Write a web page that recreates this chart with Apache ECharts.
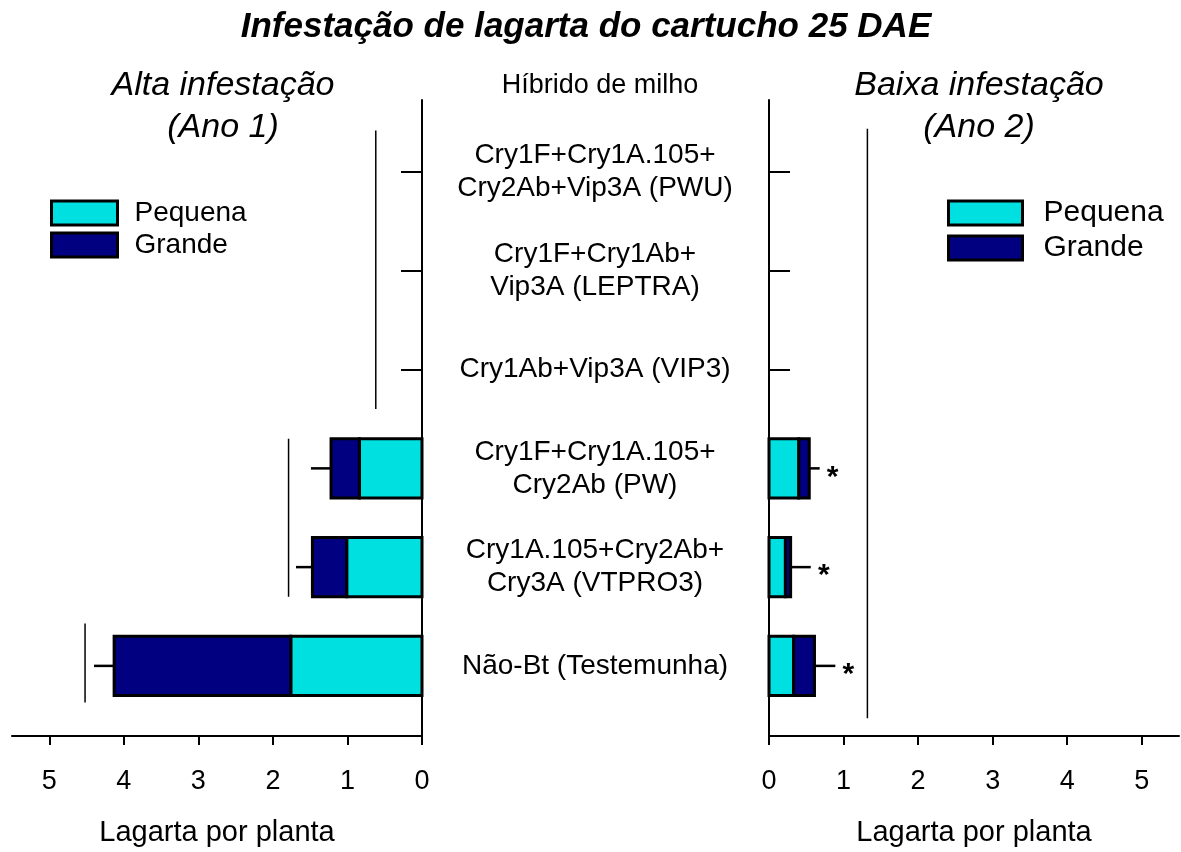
<!DOCTYPE html>
<html><head><meta charset="utf-8">
<script src="https://cdn.jsdelivr.net/npm/echarts@6/dist/echarts.min.js"></script>
<style>html,body{margin:0;padding:0;background:#fff}#c{width:1181px;height:852px}</style>
</head><body><div id="c"></div>
<script>
// ---- data ----
const categories = ['Não-Bt (Testemunha)', 'Cry1A.105+Cry2Ab+\nCry3A (VTPRO3)', 'Cry1F+Cry1A.105+\nCry2Ab (PW)', 'Cry1Ab+Vip3A (VIP3)', 'Cry1F+Cry1Ab+\nVip3A (LEPTRA)', 'Cry1F+Cry1A.105+\nCry2Ab+Vip3A (PWU)'];
const positions = [1, 2, 3, 4, 5, 6];
const ano1Pequena = [1.76, 1.01, 0.84, 0, 0, 0];
const ano1Grande = [2.37, 0.46, 0.38, 0, 0, 0];
const ano1Erro = [0.27, 0.22, 0.27, 0, 0, 0];
const ano2Pequena = [0.33, 0.22, 0.40, 0, 0, 0];
const ano2Grande = [0.28, 0.07, 0.14, 0, 0, 0];
const ano2Erro = [0.28, 0.27, 0.14, 0, 0, 0];
const ano2Signif = ['*', '*', '*', '', '', ''];
// grouping lines: [x value, y from, y to]
const ano1Grupos = [[0.62, 3.60, 6.42], [1.79, 1.70, 3.30], [4.52, 0.63, 1.43]];
const ano2Grupos = [[1.32, 0.47, 6.44]];
const xTicks = [0, 1, 2, 3, 4, 5];

const FONT = 'Liberation Sans, Arial, sans-serif';
const CYAN = '#00E0E0', NAVY = '#000080';

function segs(small, large, which) {
  const out = [];
  positions.forEach((p, i) => {
    if (small[i] + large[i] <= 0) return;
    if (which === 0) out.push([p, 0, small[i]]);
    else out.push([p, small[i], small[i] + large[i]]);
  });
  return out;
}
function errs(small, large, se, sig) {
  const out = [];
  positions.forEach((p, i) => {
    const t = small[i] + large[i];
    if (t <= 0) return;
    out.push([p, t, t + se[i], sig ? sig[i] : '']);
  });
  return out;
}
function barItem(params, api) {
  const y = api.value(0), x0 = api.value(1), x1 = api.value(2);
  const p0 = api.coord([x0, y]), p1 = api.coord([x1, y]);
  const h = api.size([0, 0.6])[1];
  return {
    type: 'rect',
    shape: { x: Math.min(p0[0], p1[0]), y: p0[1] - h / 2, width: Math.abs(p1[0] - p0[0]), height: h },
    style: { fill: api.visual('color'), stroke: '#000', lineWidth: 3 }
  };
}
function errItem(params, api) {
  const y = api.value(0);
  const p0 = api.coord([api.value(1), y]), p1 = api.coord([api.value(2), y]);
  const sig = api.value(3);
  const children = [{
    type: 'line', shape: { x1: p0[0], y1: p0[1], x2: p1[0], y2: p1[1] },
    style: { stroke: '#000', lineWidth: 2.5 }
  }];
  if (sig && String(sig).length) {
    children.push({
      type: 'text', x: p1[0] + 13, y: p1[1] + 9,
      style: { text: String(sig), fill: '#000', font: 'bold 30px ' + FONT, align: 'center', verticalAlign: 'middle' }
    });
  }
  return { type: 'group', children };
}
function grpItem(params, api) {
  const a = api.coord([api.value(0), api.value(1)]), b = api.coord([api.value(0), api.value(2)]);
  return { type: 'line', shape: { x1: a[0], y1: a[1], x2: b[0], y2: b[1] }, style: { stroke: '#000', lineWidth: 1.5 } };
}

const xCommon = {
  type: 'value', min: 0, max: 5.5,
  axisLine: { show: true, lineStyle: { color: '#000', width: 2 } },
  axisTick: { show: true, customValues: xTicks, length: 9, lineStyle: { color: '#000', width: 2 } },
  axisLabel: { customValues: xTicks, fontSize: 27, color: '#000', fontFamily: FONT, margin: 32 },
  splitLine: { show: false },
  name: 'Lagarta por planta', nameLocation: 'middle', nameGap: 82,
  nameTextStyle: { fontSize: 29, color: '#000', fontFamily: FONT }
};
const yCommon = {
  type: 'value', min: 0.29, max: 6.73,
  axisLine: { show: true, lineStyle: { color: '#000', width: 2 } },
  axisTick: { show: true, inside: true, customValues: positions, length: 21, lineStyle: { color: '#000', width: 2 } },
  splitLine: { show: false }
};

const chart = echarts.init(document.getElementById('c'));
chart.setOption({
  backgroundColor: '#fff',
  animation: false,
  title: [
    { text: 'Infestação de lagarta do cartucho 25 DAE', left: 581, top: 5, textAlign: 'center',
      textStyle: { fontSize: 35, fontWeight: 'bold', fontStyle: 'italic', color: '#000', fontFamily: FONT } },
    { text: 'Alta infestação\n(Ano 1)', left: 218, top: 60, textAlign: 'center',
      textStyle: { fontSize: 34, fontStyle: 'italic', fontWeight: 'normal', color: '#000', fontFamily: FONT, lineHeight: 42 } },
    { text: 'Baixa infestação\n(Ano 2)', left: 974, top: 60, textAlign: 'center',
      textStyle: { fontSize: 34, fontStyle: 'italic', fontWeight: 'normal', color: '#000', fontFamily: FONT, lineHeight: 42 } },
    { text: 'Híbrido de milho', left: 595, top: 67, textAlign: 'center',
      textStyle: { fontSize: 27, fontWeight: 'normal', color: '#000', fontFamily: FONT } }
  ],
  legend: [
    { orient: 'vertical', left: 50, top: 199, itemWidth: 66, itemHeight: 24, itemGap: 4, padding: 0,
      data: ['Pequena', 'Grande'], icon: 'rect', selectedMode: false,
      itemStyle: { borderColor: '#000', borderWidth: 3 },
      textStyle: { fontSize: 28, color: '#000', fontFamily: FONT, padding: [0, 0, 0, 12] } },
    { orient: 'vertical', left: 947, top: 198, itemWidth: 74, itemHeight: 24, itemGap: 5, padding: 0,
      data: ['Pequena', 'Grande'], icon: 'rect', selectedMode: false,
      itemStyle: { borderColor: '#000', borderWidth: 3 },
      textStyle: { fontSize: 30, color: '#000', fontFamily: FONT, padding: [0, 0, 0, 16] } }
  ],
  grid: [
    { left: 12, right: 759, top: 100, bottom: 115 },
    { left: 769, right: 2, top: 100, bottom: 115 }
  ],
  xAxis: [
    Object.assign({}, xCommon, { gridIndex: 0, inverse: true }),
    Object.assign({}, xCommon, { gridIndex: 1 })
  ],
  yAxis: [
    Object.assign({}, yCommon, { gridIndex: 0, position: 'right',
      axisLabel: { customValues: positions, formatter: v => categories[Math.round(v) - 1] || '',
        margin: 173, align: 'center', fontSize: 28, lineHeight: 33, color: '#000', fontFamily: FONT } }),
    Object.assign({}, yCommon, { gridIndex: 1, position: 'left', axisLabel: { show: false } })
  ],
  series: [
    { name: 'Pequena', type: 'custom', xAxisIndex: 0, yAxisIndex: 0, renderItem: barItem, encode: { x: [1, 2], y: 0 },
      itemStyle: { color: CYAN, borderColor: '#000', borderWidth: 3 }, data: segs(ano1Pequena, ano1Grande, 0), z: 3 },
    { name: 'Grande', type: 'custom', xAxisIndex: 0, yAxisIndex: 0, renderItem: barItem, encode: { x: [1, 2], y: 0 },
      itemStyle: { color: NAVY, borderColor: '#000', borderWidth: 3 }, data: segs(ano1Pequena, ano1Grande, 1), z: 3 },
    { name: 'Pequena', type: 'custom', xAxisIndex: 1, yAxisIndex: 1, renderItem: barItem, encode: { x: [1, 2], y: 0 },
      itemStyle: { color: CYAN, borderColor: '#000', borderWidth: 3 }, data: segs(ano2Pequena, ano2Grande, 0), z: 3 },
    { name: 'Grande', type: 'custom', xAxisIndex: 1, yAxisIndex: 1, renderItem: barItem, encode: { x: [1, 2], y: 0 },
      itemStyle: { color: NAVY, borderColor: '#000', borderWidth: 3 }, data: segs(ano2Pequena, ano2Grande, 1), z: 3 },
    { name: 'erro1', type: 'custom', xAxisIndex: 0, yAxisIndex: 0, renderItem: errItem, encode: { x: [1, 2], y: 0 },
      data: errs(ano1Pequena, ano1Grande, ano1Erro, null), z: 4 },
    { name: 'erro2', type: 'custom', xAxisIndex: 1, yAxisIndex: 1, renderItem: errItem, encode: { x: [1, 2], y: 0 },
      data: errs(ano2Pequena, ano2Grande, ano2Erro, ano2Signif), z: 4 },
    { name: 'grupos1', type: 'custom', xAxisIndex: 0, yAxisIndex: 0, renderItem: grpItem, encode: { x: 0, y: [1, 2] },
      data: ano1Grupos, z: 2 },
    { name: 'grupos2', type: 'custom', xAxisIndex: 1, yAxisIndex: 1, renderItem: grpItem, encode: { x: 0, y: [1, 2] },
      data: ano2Grupos, z: 2 }
  ]
});
</script>
</body></html>
